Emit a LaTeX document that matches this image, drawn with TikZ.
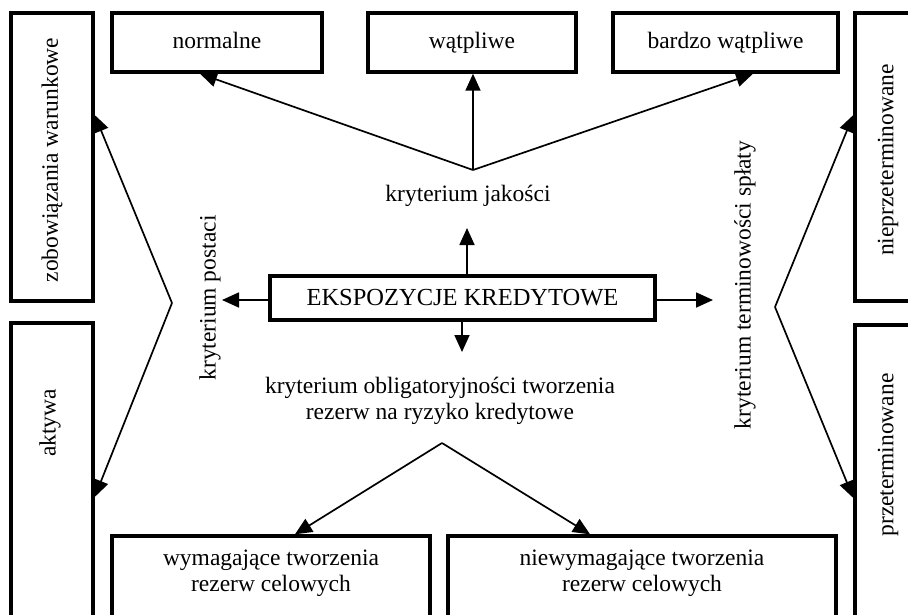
\documentclass[tikz,border=0pt]{standalone}
\usepackage{fontspec}
\setmainfont{Liberation Serif}
\usetikzlibrary{arrows.meta,calc}
\begin{document}
\begin{tikzpicture}[x=1pt,y=-1pt,
  box/.style={draw,line width=3.4pt,rectangle,inner sep=0pt,align=center},
  tbox/.style={box,minimum height=59,text height=16pt,text depth=5pt},
  arr/.style={line width=1.7pt,-{Triangle[length=17pt,width=15pt]}},
  lbl/.style={inner sep=0pt,align=center},
  font=\fontsize{23.5}{25.5}\selectfont]
\useasboundingbox (0,0) rectangle (908,614);
% top boxes
\node[tbox,minimum width=210] (norm) at (217,42.5) {normalne};
\node[tbox,minimum width=208] (watp) at (472,42.5) {wątpliwe};
\node[tbox,minimum width=225] (bwatp) at (725.5,42.5) {bardzo wątpliwe};
% left boxes
\node[box,minimum width=82,minimum height=288] (zob) at (52,157) {};
\node[lbl,rotate=90] (zobt) at (52,160) {zobowiązania warunkowe};
\node[box,minimum width=82,minimum height=330] (akt) at (52,488) {};
\node[lbl,rotate=90] (aktt) at (50,423) {aktywa};
% right boxes
\node[box,minimum width=105,minimum height=288] (niep) at (907.5,157) {};
\node[lbl,rotate=90] (niept) at (888,160) {nieprzeterminowane};
\node[box,minimum width=105,minimum height=325] (przet) at (907.5,487.5) {};
\node[lbl,rotate=90] (przett) at (888,455) {przeterminowane};
% bottom boxes
\node[box,minimum width=318,minimum height=124] (wym) at (271,598) {};
\node[lbl] (wymt) at (271,573) {wymagające tworzenia\\rezerw celowych};
\node[box,minimum width=388,minimum height=124] (niew) at (642,598) {};
\node[lbl] (niewt) at (642,573) {niewymagające tworzenia\\rezerw celowych};
% center
\node[box,minimum width=385,minimum height=44,font=\fontsize{24.5}{26}\selectfont] (ek) at (462.5,298) {EKSPOZYCJE KREDYTOWE};
% criterion labels
\node[lbl] (kj) at (468,196) {kryterium jakości};
\node[lbl,rotate=90] (kp) at (210,298) {kryterium postaci};
\node[lbl,rotate=90] (kt) at (745,285) {kryterium terminowości spłaty};
\node[lbl] (ko) at (440,401) {kryterium obligatoryjności tworzenia\\rezerw na ryzyko kredytowe};
% apex coordinates
\coordinate (qa) at (473,170);
\coordinate (pa) at (172,303);
\coordinate (ta) at (775,307);
\coordinate (oa) at (442,443);
% center arrows
\coordinate (cu) at (467,228);
\coordinate (cd) at (462,352);
\coordinate (cl) at (222,300);
\coordinate (cr) at (713,300);
\draw[arr] (ek.north -| cu) -- (cu);
\draw[arr] (ek.south -| cd) -- (cd);
\draw[arr] (ek.west |- cl) -- (cl);
\draw[arr] (ek.east |- cr) -- (cr);
% quality
\draw[arr] (qa) -- ([xshift=-17pt]norm.south);
\draw[arr] (qa) -- (watp.south -| qa);
\draw[arr] (qa) -- ([xshift=27.5pt]bwatp.south);
% form
\draw[arr] (pa) -- ([yshift=42pt]zob.east);
\draw[arr] (pa) -- ([yshift=-9pt]akt.east);
% term
\draw[arr] (ta) -- ([yshift=42pt]niep.west);
\draw[arr] (ta) -- ([yshift=-10.5pt]przet.west);
% obligatory
\draw[arr] (oa) -- ([xshift=24pt]wym.north);
\draw[arr] (oa) -- ([xshift=-52pt]niew.north);
\end{tikzpicture}
\end{document}
